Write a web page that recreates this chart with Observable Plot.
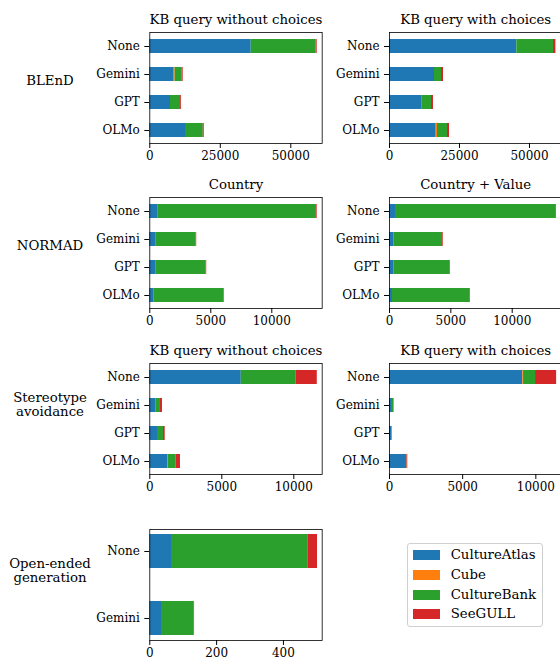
<!DOCTYPE html>
<html><head><meta charset="utf-8">
<script src="https://cdn.jsdelivr.net/npm/d3@7"></script>
<script src="https://cdn.jsdelivr.net/npm/@observablehq/plot@0.6"></script>
<style>
html,body{margin:0;padding:0;background:#fff;}
#chart{position:relative;width:560px;height:661px;overflow:hidden;font-family:"DejaVu Serif",serif;color:#000;}
#chart svg{position:absolute;}
.legend{position:absolute;left:406.7px;top:543.3px;width:134px;height:82px;border:1px solid #d0d0d0;border-radius:3px;background:#fff;font-size:13.3px;}
.legend .sw{position:absolute;left:5px;width:27px;height:10px;}
.legend .lb{position:absolute;left:43px;height:16px;line-height:16px;white-space:nowrap;}
</style></head><body><div id="chart"></div>
<script>
// ---- data ----
const seriesNames = ["CultureAtlas", "Cube", "CultureBank", "SeeGULL"];
const seriesColors = ["#1f77b4", "#ff7f0e", "#2ca02c", "#d62728"];
const models = ["None", "Gemini", "GPT", "OLMo"];
const openModels = ["None", "Gemini"];
const rowLabels = ["BLEnD", "NORMAD", "Stereotype\navoidance", "Open-ended\ngeneration"];
const panelTitles = ["KB query without choices", "KB query with choices", "Country", "Country + Value", "KB query without choices", "KB query with choices", ""];
const ticksBlend = [0, 25000, 50000];
const ticksSmall = [0, 5000, 10000];
const ticksOpen = [0, 200, 400];
// rows = series (CultureAtlas, Cube, CultureBank, SeeGULL); columns = models
const blendWithout = [[35960, 8650, 7340, 12660], [0, 350, 0, 0], [23040, 2490, 3550, 6300], [360, 350, 300, 350]];
const blendWith = [[45500, 16070, 11680, 16680], [0, 0, 0, 460], [13070, 2500, 3320, 3570], [860, 720, 710, 720]];
const normadCountry = [[690, 525, 525, 360], [0, 0, 0, 0], [12970, 3260, 4080, 5700], [60, 60, 60, 50]];
const normadValue = [[490, 350, 350, 245], [0, 0, 0, 0], [13060, 3970, 4570, 6275], [60, 60, 50, 60]];
const stereoWithout = [[6350, 440, 535, 1230], [0, 0, 0, 30], [3820, 300, 415, 570], [1460, 140, 120, 300]];
const stereoWith = [[9110, 200, 140, 1160], [50, 0, 0, 0], [820, 100, 0, 30], [1440, 20, 40, 60]];
const openEnded = [[65, 35], [0, 0], [408, 97], [29, 2]];

// ---- layout ----
const rowTops = [31.7, 197.3, 363.3, 529.3];
const frameH = 111, frameW = 172.4, mTop = 30, mBottom = 25;
const panels = [
  {values: blendWithout, cats: models, ticks: ticksBlend, max: 61130, row: 0, col: 0, title: panelTitles[0], label: rowLabels[0]},
  {values: blendWith, cats: models, ticks: ticksBlend, max: 61570, row: 0, col: 1, title: panelTitles[1]},
  {values: normadCountry, cats: models, ticks: ticksSmall, max: 14130, row: 1, col: 0, title: panelTitles[2], label: rowLabels[1]},
  {values: normadValue, cats: models, ticks: ticksSmall, max: 14050, row: 1, col: 1, title: panelTitles[3]},
  {values: stereoWithout, cats: models, ticks: ticksSmall, max: 11970, row: 2, col: 0, title: panelTitles[4], label: rowLabels[2]},
  {values: stereoWith, cats: models, ticks: ticksSmall, max: 11780, row: 2, col: 1, title: panelTitles[5]},
  {values: openEnded, cats: openModels, ticks: ticksOpen, max: 516, row: 3, col: 0, title: panelTitles[6], label: rowLabels[3]}
];

const chart = document.getElementById("chart");

for (const p of panels) {
  const data = [];
  p.values.forEach((arr, si) => arr.forEach((v, mi) => data.push({model: p.cats[mi], series: seriesNames[si], value: v})));
  const left = p.col === 0 ? 149.3 : 59;
  const svgLeft = p.col === 0 ? 0 : 330;
  const marks = [
    Plot.barX(data, {x: "value", y: "model", fill: "series"}),
    Plot.frame({stroke: "#000", strokeWidth: 0.8})
  ];
  if (p.title) marks.push(Plot.text([p.title], {text: d => d, frameAnchor: "top", dy: -8.3, lineAnchor: "bottom", textAnchor: "middle", fontSize: 13.3}));
  if (p.label) marks.push(Plot.text([p.label], {text: d => d, frameAnchor: "left", dx: -99.8, dy: -2.7, textAnchor: "middle", lineAnchor: "bottom", lineHeight: 1.08, fontSize: 13.3}));
  const n = p.cats.length;
  const svg = Plot.plot({
    width: left + frameW + 8,
    height: mTop + frameH + mBottom,
    marginLeft: left, marginRight: 8, marginTop: mTop, marginBottom: mBottom,
    style: {fontFamily: "DejaVu Serif", fontSize: "12px", background: "transparent", color: "#000", overflow: "visible"},
    x: {domain: [0, p.max], ticks: p.ticks, tickSize: 5, tickPadding: 3, tickFormat: d3.format("d"), label: null},
    y: {type: "band", domain: p.cats, paddingInner: 0.5, paddingOuter: n === 4 ? 0.175 : 0.075, tickSize: 5, tickPadding: 5, label: null},
    color: {domain: seriesNames, range: seriesColors},
    marks
  });
  svg.style.left = svgLeft + "px";
  svg.style.top = (rowTops[p.row] - mTop) + "px";
  chart.appendChild(svg);
}

// legend
const leg = document.createElement("div");
leg.className = "legend";
seriesNames.forEach((name, i) => {
  const cy = 10.7 + i * 19.8;
  const sw = document.createElement("div");
  sw.className = "sw";
  sw.style.top = (cy - 5) + "px";
  sw.style.background = seriesColors[i];
  const lb = document.createElement("div");
  lb.className = "lb";
  lb.style.top = (cy - 8) + "px";
  lb.textContent = name;
  leg.appendChild(sw);
  leg.appendChild(lb);
});
chart.appendChild(leg);
</script>
</body></html>
